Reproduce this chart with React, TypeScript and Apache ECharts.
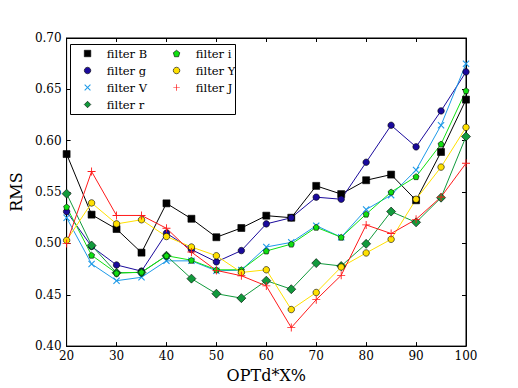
import React, { useEffect, useRef } from "react";
import * as echarts from "echarts";

const xValues = [20, 25, 30, 35, 40, 45, 50, 55, 60, 65, 70, 75, 80, 85, 90, 95, 100];

const filterB = [0.587, 0.528, 0.514, 0.491, 0.539, 0.524, 0.506, 0.515, 0.527, 0.525, 0.556, 0.548, 0.5615, 0.567, 0.542, 0.589, 0.640];
const filterG = [0.531, 0.497, 0.479, 0.473, 0.510, 0.494, 0.482, 0.493, 0.519, 0.525, 0.545, 0.543, 0.579, 0.615, 0.594, 0.629, 0.667];
const filterV = [0.525, 0.480, 0.4637, 0.467, 0.483, 0.483, 0.4733, 0.474, 0.4965, 0.501, 0.5173, 0.506, 0.533, 0.547, 0.5714, 0.615, 0.675];
const filterR = [0.5484, 0.498, 0.4714, 0.4717, 0.488, 0.4657, 0.451, 0.4467, 0.4637, 0.4554, 0.4808, 0.478, 0.4996, 0.531, 0.5205, 0.5445, 0.604];
const filterI = [0.5355, 0.4885, 0.471, 0.472, 0.488, 0.4836, 0.4743, 0.4743, 0.4926, 0.4993, 0.5157, 0.506, 0.5285, 0.55, 0.565, 0.5967, 0.6487];
const filterY = [0.503, 0.5394, 0.519, 0.523, 0.5067, 0.4965, 0.488, 0.4717, 0.4743, 0.4356, 0.4522, 0.477, 0.4907, 0.504, 0.543, 0.5743, 0.613];
const filterJ = [0.500, 0.570, 0.5272, 0.5272, 0.5147, 0.4916, 0.4737, 0.4685, 0.4586, 0.418, 0.4452, 0.4689, 0.518, 0.5096, 0.5234, 0.5452, 0.578];

const PLUS = "path://M4,0 H5 V4 H9 V5 H5 V9 H4 V5 H0 V4 H4 Z";
const CROSS = "path://M0,1 L1,0 L4.5,3.5 L8,0 L9,1 L5.5,4.5 L9,8 L8,9 L4.5,5.5 L1,9 L0,8 L3.5,4.5 Z";
const PENTA = "path://M5,0 L10,3.8 L8.1,10 L1.9,10 L0,3.8 Z";

const SERIF = "DejaVu Serif";

type Def = { name: string; data: number[]; color: string; symbol: string; size: number; edge: boolean };

const defs: Def[] = [
  { name: "filter B", data: filterB, color: "#000000", symbol: "rect", size: 7, edge: true },
  { name: "filter g", data: filterG, color: "#1a0a9c", symbol: "circle", size: 6.5, edge: true },
  { name: "filter V", data: filterV, color: "#1e9ae8", symbol: CROSS, size: 7, edge: false },
  { name: "filter r", data: filterR, color: "#119a3c", symbol: "diamond", size: 9, edge: true },
  { name: "filter i", data: filterI, color: "#11e011", symbol: PENTA, size: 6, edge: true },
  { name: "filter Y", data: filterY, color: "#ffe000", symbol: "circle", size: 6.5, edge: true },
  { name: "filter J", data: filterJ, color: "#ff1a1a", symbol: PLUS, size: 8, edge: false },
];

export default function App() {
  const ref = useRef<HTMLDivElement>(null);
  useEffect(() => {
    if (!ref.current) return;
    const chart = echarts.init(ref.current, undefined, { renderer: "svg" });
    const gridLeft = 65, gridTop = 38, gridW = 401, gridH = 312;
    const tickStyle = { show: true, inside: true, length: 4, lineStyle: { color: "#000", width: 1 } };
    const series = defs.map((d) => ({
      name: d.name,
      type: "line",
      data: xValues.map((x, i) => [x, d.data[i]]),
      symbol: d.symbol,
      symbolSize: d.size,
      showAllSymbol: true,
      lineStyle: { color: d.color, width: 1 },
      itemStyle: {
        color: d.color,
        borderColor: d.edge ? "#000" : d.color,
        borderWidth: d.edge ? 0.6 : 0,
      },
      emphasis: { disabled: true },
    }));
    const legendCommon = {
      orient: "vertical",
      itemWidth: 6.5,
      itemHeight: 6.5,
      itemGap: 4,
      textStyle: { fontFamily: SERIF, fontWeight: "normal", fontSize: 11.5, color: "#000", lineHeight: 13, padding: [0, 0, 0, 11] },
      selectedMode: false,
      padding: 0,
    };
    const legendItem = (d: Def) => ({ name: d.name, icon: d.symbol, itemStyle: { color: d.color, borderColor: d.edge ? "#000" : d.color, borderWidth: d.edge ? 0.6 : 0 } });
    chart.setOption({
      animation: false,
      backgroundColor: "#ffffff",
      grid: { left: gridLeft, top: gridTop, width: gridW, height: gridH, show: true, borderColor: "#000", borderWidth: 1, containLabel: false },
      legend: [
        { ...legendCommon, left: 84, top: 47, data: defs.slice(0, 4).map(legendItem) },
        { ...legendCommon, left: 173, top: 47, data: defs.slice(4).map(legendItem) },
      ],
      graphic: [
        { type: "rect", shape: { x: 70.5, y: 44.5, width: 165, height: 70 }, style: { fill: "none", stroke: "#000", lineWidth: 1 }, z: 100 },
      ],
      xAxis: [
        {
          type: "value", min: 20, max: 100, interval: 10,
          axisLine: { show: true, lineStyle: { color: "#000" } },
          axisTick: tickStyle,
          splitLine: { show: false },
          axisLabel: { fontFamily: SERIF, fontSize: 12, color: "#000", margin: 4 },
          name: "OPTd*X%", nameLocation: "middle", nameGap: 19,
          nameTextStyle: { fontFamily: SERIF, fontSize: 16, color: "#000" },
        },
        {
          type: "value", min: 20, max: 100, interval: 10, position: "top",
          axisLine: { show: true, lineStyle: { color: "#000" } },
          axisTick: tickStyle, axisLabel: { show: false }, splitLine: { show: false },
        },
      ],
      yAxis: [
        {
          type: "value", min: 0.4, max: 0.7, interval: 0.05,
          axisLine: { show: true, lineStyle: { color: "#000" } },
          axisTick: tickStyle,
          splitLine: { show: false },
          axisLabel: { fontFamily: SERIF, fontSize: 12, color: "#000", margin: 5, formatter: (v: number) => v.toFixed(2) },
          name: "RMS", nameLocation: "middle", nameGap: 31,
          nameTextStyle: { fontFamily: SERIF, fontSize: 16, color: "#000" },
        },
        {
          type: "value", min: 0.4, max: 0.7, interval: 0.05, position: "right",
          axisLine: { show: true, lineStyle: { color: "#000" } },
          axisTick: tickStyle, axisLabel: { show: false }, splitLine: { show: false },
        },
      ],
      series,
    });
    return () => chart.dispose();
  }, []);
  return <div ref={ref} style={{ width: 518, height: 388, position: "absolute", left: 0, top: 0 }} />;
}
